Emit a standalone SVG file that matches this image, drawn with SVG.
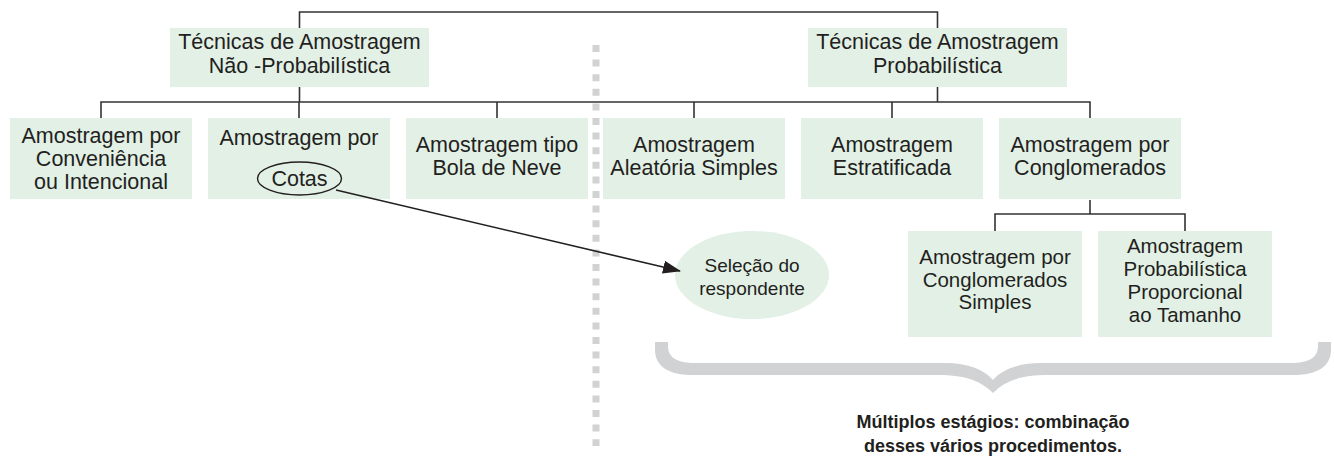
<svg xmlns="http://www.w3.org/2000/svg" width="1334" height="458" viewBox="0 0 1334 458">
<style>
.box{fill:#e2f0e6;}
.t{font-family:"Liberation Sans",Arial,sans-serif;font-size:21.5px;fill:#231f20;text-anchor:middle;}
.t2{font-family:"Liberation Sans",Arial,sans-serif;font-size:20.5px;fill:#231f20;text-anchor:middle;}
.b{font-family:"Liberation Sans",Arial,sans-serif;font-size:18px;font-weight:bold;fill:#231f20;text-anchor:middle;}
.ln{fill:none;stroke:#333;stroke-width:1.6;}
</style>
<defs>
<marker id="ah" viewBox="0 0 18 13" refX="17" refY="6.5" markerWidth="18" markerHeight="13" markerUnits="userSpaceOnUse" orient="auto">
<path d="M0,0 L18,6.5 L0,13 z" fill="#231f20"/>
</marker>
</defs>

<line x1="596" y1="45" x2="596" y2="446" stroke="#d1d2d4" stroke-width="7" stroke-dasharray="7 7.6"/>

<g id="n-nao-prob">
<rect class="box" x="170" y="28" width="259" height="59"/>
<text class="t" x="299.5" y="49">Técnicas de Amostragem</text>
<text class="t" x="299.5" y="72.5">Não -Probabilística</text>
</g>
<g id="n-prob">
<rect class="box" x="808" y="28" width="259" height="59"/>
<text class="t" x="937.5" y="49">Técnicas de Amostragem</text>
<text class="t" x="937.5" y="72.5">Probabilística</text>
</g>

<g id="n-conveniencia">
<rect class="box" x="10" y="118" width="182" height="81"/>
<text class="t" x="101" y="143">Amostragem por</text>
<text class="t" x="101" y="166">Conveniência</text>
<text class="t" x="101" y="189">ou Intencional</text>
</g>
<g id="n-cotas">
<rect class="box" x="208" y="118" width="182" height="81"/>
<text class="t" x="299" y="145">Amostragem por</text>
<ellipse cx="299.5" cy="178.5" rx="42" ry="16.5" fill="none" stroke="#231f20" stroke-width="1.4"/>
<text class="t" x="299.5" y="186">Cotas</text>
</g>
<g id="n-bola">
<rect class="box" x="406" y="118" width="182" height="81"/>
<text class="t" x="497" y="152">Amostragem tipo</text>
<text class="t" x="497" y="175">Bola de Neve</text>
</g>
<g id="n-aleatoria">
<rect class="box" x="603" y="118" width="182" height="81"/>
<text class="t" x="694" y="152">Amostragem</text>
<text class="t" x="694" y="175">Aleatória Simples</text>
</g>
<g id="n-estratificada">
<rect class="box" x="801" y="118" width="182" height="81"/>
<text class="t" x="892" y="152">Amostragem</text>
<text class="t" x="892" y="175">Estratificada</text>
</g>
<g id="n-conglomerados">
<rect class="box" x="999" y="118" width="182" height="81"/>
<text class="t" x="1090" y="152">Amostragem por</text>
<text class="t" x="1090" y="175">Conglomerados</text>
</g>

<g id="n-cong-simples">
<rect class="box" x="908" y="231" width="174" height="106"/>
<text class="t2" x="995" y="264">Amostragem por</text>
<text class="t2" x="995" y="286.5">Conglomerados</text>
<text class="t2" x="995" y="309">Simples</text>
</g>
<g id="n-ppt">
<rect class="box" x="1098" y="231" width="174" height="106"/>
<text class="t2" x="1185" y="253">Amostragem</text>
<text class="t2" x="1185" y="276">Probabilística</text>
<text class="t2" x="1185" y="299">Proporcional</text>
<text class="t2" x="1185" y="322">ao Tamanho</text>
</g>

<g id="n-selecao">
<ellipse class="box" cx="752" cy="275" rx="77" ry="44"/>
<text class="t2" x="752" y="272" style="font-size:19px">Seleção do</text>
<text class="t2" x="752" y="295" style="font-size:19px">respondente</text>
</g>

<g id="brace">
<path fill="#d1d2d4" d="M655,342 H668 V346 C668,358 678,363 695,363 H945 C968,363 985,370 993,380 C1001,370 1018,363 1041,363 H1291 C1308,363 1318,358 1318,346 V342 H1331 V350 C1331,367 1316,375 1294,375 H1048 C1020,375 1005,381 993,393 C981,381 966,375 938,375 H692 C670,375 655,367 655,350 Z"/>
</g>

<g id="caption">
<text class="b" x="993" y="428">Múltiplos estágios: combinação</text>
<text class="b" x="993" y="452">desses vários procedimentos.</text>
</g>

<g id="connectors">
<path class="ln" d="M299.5,28 V12 H937.5 V28"/>
<path class="ln" d="M299.5,87 V102 M937.5,87 V102 M101,118 V102 H1090 V118 M299,102 V118 M497,102 V118 M694,102 V118 M892,102 V118"/>
<path class="ln" d="M1090,200 V214 M995,231 V214 H1185 V231"/>
<line x1="336" y1="190" x2="680" y2="271" stroke="#231f20" stroke-width="1.6" marker-end="url(#ah)"/>
</g>
</svg>
